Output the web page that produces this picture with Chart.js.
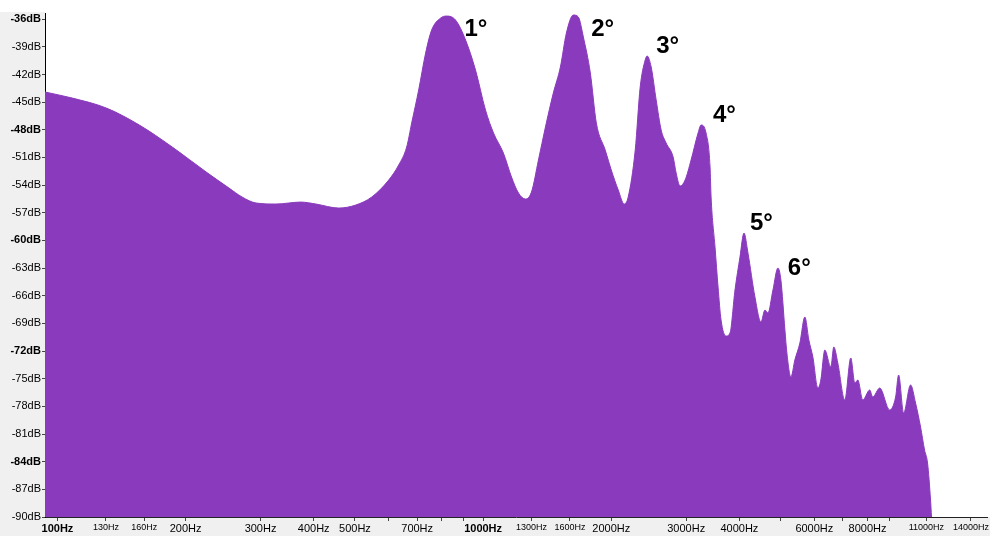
<!DOCTYPE html>
<html>
<head>
<meta charset="utf-8">
<script src="https://cdn.jsdelivr.net/npm/chart.js@4"></script>
<style>
  body { margin: 0; background: #fff; }
  canvas { display: block; }
</style>
</head>
<body>
<canvas id="spectrum" width="990" height="536"></canvas>
<script>
// Spectrum values (Hz / dB)
const freqs = [93.5, 108.4, 130.3, 155.7, 186.1, 223.6, 253.0, 271.5, 292.8, 326.2,
  373.3, 404.7, 458.2, 502.2, 547.6, 600.1, 633.4, 661.4, 679.5, 705.7,
  732.8, 757.0, 794.6, 820.8, 861.6, 909.5, 959.8, 1013, 1058, 1116,
  1166, 1211, 1257, 1299, 1349, 1401, 1462, 1519, 1569, 1629,
  1674, 1720, 1786, 1845, 1936, 2000, 2077, 2145, 2192, 2277,
  2339, 2403, 2429, 2482, 2550, 2620, 2692, 2795, 2841, 2903,
  2982, 3080, 3199, 3251, 3340, 3413, 3432, 3506, 3564, 3622,
  3721, 3802, 3906, 4013, 4101, 4190, 4351, 4495, 4593, 4668,
  4796, 4927, 5007, 5117, 5172, 5285, 5400, 5548, 5700, 5824,
  5952, 6115, 6214, 6350, 6559, 6666, 6812, 7074, 7307, 7467,
  7589, 7796, 8096, 8229, 8546, 9016, 9313, 9465, 9724, 10098,
  10374, 10658, 10890, 11068, 11249, 11310];
const levels = [-43.9, -44.56, -45.64, -47.48, -49.87, -52.58, -54.32, -55.29, -55.94, -56.05,
  -55.84, -56.05, -56.49, -56.16, -55.29, -53.45, -51.82, -49.87, -47.27, -43.69,
  -39.67, -37.18, -35.88, -35.66, -36.10, -38.26, -41.52, -45.86, -48.35, -50.52,
  -53.12, -54.86, -55.51, -54.75, -51.28, -47.70, -44.01, -41.19, -37.51, -35.55,
  -35.77, -37.94, -41.84, -47.27, -50.20, -52.36, -54.53, -56.05, -55.29, -50.20,
  -43.36, -40.43, -40.0, -41.19, -44.77, -48.03, -49.44, -50.95, -52.69, -54.10,
  -53.45, -51.28, -48.35, -47.48, -48.35, -52.04, -55.29, -60.72, -65.05, -68.63,
  -70.37, -70.04, -65.38, -61.80, -59.20, -61.37, -66.14, -68.85, -67.55, -67.87,
  -65.38, -62.99, -64.30, -69.72, -72.21, -74.82, -72.97, -71.13, -68.31, -70.80,
  -72.65, -76.01, -75.14, -71.89, -73.73, -71.56, -73.30, -77.31, -72.75, -75.47,
  -75.14, -77.31, -76.23, -76.98, -76.01, -78.39, -76.98, -74.60, -78.72, -75.68,
  -77.64, -80.24, -82.73, -84.14, -88.16, -90];

// Axis ticks
const xTicks = [100, 130, 160, 200, 300, 400, 500, 600, 700, 800, 900, 1000,
  1300, 1600, 2000, 3000, 4000, 5000, 6000, 7000, 8000, 9000, 11000, 14000];
const xLabeled = [100, 130, 160, 200, 300, 400, 500, 700, 1000,
  1300, 1600, 2000, 3000, 4000, 6000, 8000, 11000, 14000];
const xSmall = [130, 160, 1300, 1600, 11000, 14000];
const xBold = [100, 1000];
const yTicks = [-90, -87, -84, -81, -78, -75, -72, -69, -66, -63, -60, -57,
  -54, -51, -48, -45, -42, -39, -36];
const yBold = [-36, -48, -60, -72, -84];

// Harmonic labels (text start, baseline) in Hz / dB
const peakNames = ['1°', '2°', '3°', '4°', '5°', '6°'];
const peakFreqs = [904, 1795, 2550, 3468, 4235, 5198];
const peakDb = [-37.8, -37.8, -39.7, -47.2, -58.9, -63.8];

const purple = '#8a3bbd';

// gray panels behind the axes
const axisBackground = {
  id: 'axisBackground',
  beforeDraw(chart) {
    const { ctx, chartArea } = chart;
    ctx.save();
    ctx.fillStyle = '#f0f0f0';
    ctx.fillRect(0, chartArea.top - 1, chartArea.left, chart.height);
    ctx.fillRect(0, chartArea.bottom, chart.width, chart.height - chartArea.bottom);
    ctx.restore();
  }
};

// the 1°..6° texts
const peakText = {
  id: 'peakText',
  afterDatasetsDraw(chart) {
    const { ctx, scales } = chart;
    ctx.save();
    ctx.fillStyle = '#000';
    ctx.font = 'bold 24px "Liberation Sans", Arial, sans-serif';
    ctx.textAlign = 'left';
    ctx.textBaseline = 'alphabetic';
    peakNames.forEach(function(name, i) {
      ctx.fillText(name, scales.x.getPixelForValue(peakFreqs[i]), scales.y.getPixelForValue(peakDb[i]));
    });
    ctx.restore();
  }
};

const points = freqs.map((f, i) => ({ x: f, y: levels[i] }));

new Chart(document.getElementById('spectrum'), {
  type: 'line',
  data: {
    datasets: [{
      data: points,
      borderColor: purple,
      backgroundColor: purple,
      borderWidth: 1,
      pointRadius: 0,
      cubicInterpolationMode: 'monotone',
      fill: 'start'
    }]
  },
  options: {
    responsive: false,
    animation: false,
    devicePixelRatio: 1,
    layout: { padding: { top: 13, right: 0, left: 0, bottom: 0 } },
    plugins: { legend: { display: false }, tooltip: { enabled: false } },
    scales: {
      x: {
        type: 'logarithmic',
        min: 93.5,
        max: 15330,
        afterBuildTicks: (scale) => { scale.ticks = xTicks.map(v => ({ value: v })); },
        afterFit: (scale) => { scale.height = 19; },
        border: { color: '#222', width: 1 },
        grid: { drawOnChartArea: false, drawTicks: true, tickLength: 4, tickColor: '#444' },
        ticks: {
          autoSkip: false,
          maxRotation: 0,
          padding: 1,
          color: '#000',
          callback: (v) => xLabeled.includes(v) ? v + 'Hz' : '',
          font: (c) => {
            const v = c.tick && c.tick.value;
            if (xBold.includes(v)) return { family: '"Liberation Sans", Arial', size: 11, weight: 'bold' };
            if (xSmall.includes(v)) return { family: '"Liberation Sans", Arial', size: 9 };
            return { family: '"Liberation Sans", Arial', size: 11 };
          }
        }
      },
      y: {
        min: -90,
        max: -35.33,
        afterBuildTicks: (scale) => { scale.ticks = yTicks.map(v => ({ value: v })); },
        afterFit: (scale) => { scale.width = 45; },
        border: { color: '#000', width: 1 },
        grid: { drawOnChartArea: false, drawTicks: true, tickLength: 3, tickColor: '#444' },
        ticks: {
          padding: 1,
          color: '#000',
          callback: (v) => v + 'dB',
          font: (c) => {
            const v = c.tick && c.tick.value;
            return { family: '"Liberation Sans", Arial', size: 11, weight: yBold.includes(v) ? 'bold' : 'normal' };
          }
        }
      }
    }
  },
  plugins: [axisBackground, peakText]
});
</script>
</body>
</html>
